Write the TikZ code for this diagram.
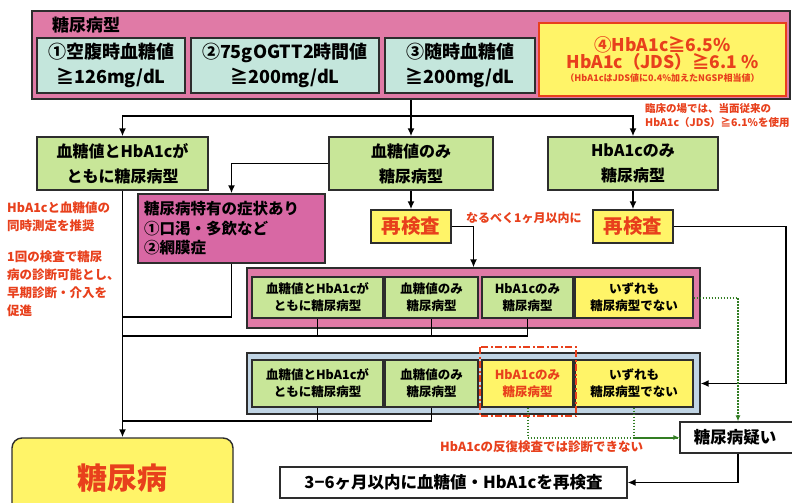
\documentclass[tikz,border=0pt]{standalone}
\usepackage{fontspec}
\setmainfont{Noto Sans CJK JP}
\usetikzlibrary{arrows.meta,calc}
\definecolor{bandpink}{RGB}{224,122,166}
\definecolor{sympink}{RGB}{216,104,164}
\definecolor{teal}{RGB}{196,230,220}
\definecolor{lgreen}{RGB}{200,230,152}
\definecolor{yel}{RGB}{255,244,104}
\definecolor{lblue}{RGB}{192,212,228}
\definecolor{redtxt}{RGB}{232,64,28}
\definecolor{bord}{RGB}{45,45,45}
\definecolor{dotgreen}{RGB}{50,125,35}
\begin{document}
\begin{tikzpicture}[x=1pt,y=-1pt,
  box/.style={draw=bord,line width=1.4pt,inner sep=0pt,align=center,font=\bfseries},
  bandbox/.style={box,fill=bandpink},
  tealbox/.style={box,fill=teal,minimum height=55pt,font=\bfseries\fontsize{18}{25}\selectfont},
  grbox/.style={box,fill=lgreen,minimum height=53pt,font=\bfseries\fontsize{16}{25}\selectfont},
  rowbox/.style={box,line width=1.2pt,font=\bfseries\fontsize{12.5}{17}\selectfont},
  recheck/.style={box,fill=yel,minimum width=80pt,minimum height=33pt,text=redtxt,font=\bfseries\fontsize{19.5}{22}\selectfont},
  whitebox/.style={box,fill=white,line width=1.2pt,minimum height=31pt,font=\bfseries\fontsize{16.5}{20}\selectfont},
  rednote/.style={text=redtxt,inner sep=0pt,align=left,font=\bfseries\fontsize{12.5}{18}\selectfont},
  arr/.style={draw=black,line width=1.6pt,-{Latex[length=8pt,width=7pt]}},
  ln/.style={draw=black,line width=1.6pt},
  dotln/.style={draw=dotgreen,line width=2pt,dash pattern=on 1.6pt off 1.4pt},
  dotarr/.style={dotln,-{Latex[length=6pt,width=5pt]}}
]
\useasboundingbox (0,0) rectangle (792,503);
\clip (0,0) rectangle (792,503);
\fill[white] (0,0) rectangle (792,503);

% top band
\node[bandbox,minimum width=758pt,minimum height=88pt] (band) at (411,55) {};
\node[inner sep=0pt,anchor=west,font=\bfseries\fontsize{17}{20}\selectfont] (title) at (52,25) {糖尿病型};
\node[tealbox,minimum width=148pt] (b1) at (111,65.5) {①空腹時血糖値\\≧126mg/dL};
\node[tealbox,minimum width=188pt] (b2) at (285,65.5) {②75gOGTT2時間値\\≧200mg/dL};
\node[tealbox,minimum width=150pt] (b3) at (460,65.5) {③随時血糖値\\≧200mg/dL};
\node[box,draw=redtxt,line width=2pt,fill=yel,minimum width=247pt,minimum height=73pt,text=redtxt] (b4) at (662.5,59.5)
  {{\fontsize{17.5}{22}\selectfont ④HbA1c≧6.5\%}\\[0pt]{\fontsize{17.5}{20}\selectfont HbA1c（JDS）≧6.1 \%}\\[1pt]{\fontsize{9}{10}\selectfont（HbA1cはJDS値に0.4\%加えたNGSP相当値）}};
\node[rednote,anchor=north west,font=\bfseries\fontsize{10.5}{14}\selectfont] (note1) at (645,103) {臨床の場では、当面従来の\\HbA1c（JDS）≧6.1\%を使用};

% second level
\node[grbox,minimum width=171pt] (g1) at (122.5,163.5) {血糖値とHbA1cが\\ともに糖尿病型};
\node[grbox,minimum width=164pt] (g2) at (411,163.5) {血糖値のみ\\糖尿病型};
\node[grbox,minimum width=170pt] (g3) at (633,163.5) {HbA1cのみ\\糖尿病型};

\coordinate (hub) at (411,116);
\draw[ln] (band.south) -- (hub);
\draw[arr] (hub) -| (g1.north);
\draw[arr] (hub) -- (g2.north);
\draw[arr] (hub) -| (g3.north);

% symptom box
\node[box,fill=sympink,minimum width=187pt,minimum height=69pt,align=left,text width=175pt,
  font=\bfseries\fontsize{15.5}{19.5}\selectfont] (s) at (231.5,228.5) {糖尿病特有の症状あり\\①口渇・多飲など\\②網膜症};
\draw[arr] (g2.west) -| (s.north);

% left notes
\node[rednote,anchor=north west] (note2) at (7,202) {HbA1cと血糖値の\\同時測定を推奨};
\node[rednote,anchor=north west] (note3) at (7,251) {1回の検査で糖尿\\病の診断可能とし、\\早期診断・介入を\\促進};

% recheck boxes
\node[recheck] (r1) at (411,226.5) {再検査};
\node[recheck] (r2) at (633,226.5) {再検査};
\draw[arr] (g2.south) -- (r1.north);
\draw[arr] (g3.south) -- (r2.north);
\node[rednote,anchor=west,font=\bfseries\fontsize{12}{14}\selectfont] (note4) at (466,218) {なるべく1ヶ月以内に};

% pink row
\node[bandbox,line width=1.2pt,minimum width=453pt,minimum height=60pt] (P) at (473.5,298) {};
\node[rowbox,fill=lgreen,minimum width=131pt,minimum height=41pt] (pa) at (317.5,297.5) {血糖値とHbA1cが\\ともに糖尿病型};
\node[rowbox,fill=lgreen,minimum width=93pt,minimum height=41pt] (pb) at (431.5,297.5) {血糖値のみ\\糖尿病型};
\node[rowbox,fill=lgreen,minimum width=91pt,minimum height=41pt] (pc) at (527.5,297.5) {HbA1cのみ\\糖尿病型};
\node[rowbox,fill=yel,minimum width=118pt,minimum height=41pt] (pd) at (634,297.5) {いずれも\\糖尿病型でない};
\draw[arr] (r1.east) -| (P.north);

% blue row
\node[box,fill=lblue,line width=1.2pt,minimum width=453pt,minimum height=61pt] (B) at (473.5,383.5) {};
\node[rowbox,fill=lgreen,minimum width=131pt,minimum height=47pt] (ba) at (317.5,383.5) {血糖値とHbA1cが\\ともに糖尿病型};
\node[rowbox,fill=lgreen,minimum width=93pt,minimum height=47pt] (bb) at (431.5,383.5) {血糖値のみ\\糖尿病型};
\node[rowbox,fill=yel,minimum width=91pt,minimum height=47pt,text=redtxt] (bc) at (527.5,383.5) {HbA1cのみ\\糖尿病型};
\node[rowbox,fill=yel,minimum width=118pt,minimum height=47pt] (bd) at (634,383.5) {いずれも\\糖尿病型でない};
\draw[draw=redtxt,line width=2pt,dash pattern=on 7pt off 2.5pt on 2pt off 2.5pt] (480,347) rectangle (576,416);
\draw[arr] (r2.east) -- ++(112,0) |- (B.east);

% final boxes
\node[box,fill=yel,rounded corners=10pt,minimum width=221pt,minimum height=80pt,text=redtxt,
  font=\bfseries\fontsize{30}{32}\selectfont] (D) at (122.5,478) {糖尿病};
\node[whitebox,minimum width=116pt] (Q) at (738,437.5) {\hspace*{-6pt}糖尿病疑い};
\node[whitebox,minimum width=347pt] (T) at (453.5,482.5) {3−6ヶ月以内に血糖値・HbA1cを再検査};

% trunk on the left
\coordinate (j1) at (122.5,317);
\coordinate (j2) at (122.5,336);
\coordinate (j3) at (122.5,421);
\draw[arr] (g1.south) -- (D.north);
\draw[ln] (s.south) |- (j1);
\draw[ln] (pa.south) |- (j2);
\draw[ln] (pb.south) -- (pb.south |- j2);
\draw[ln] (pc.south) |- (j2);
\draw[ln] (ba.south) |- (j3);
\draw[ln] (bb.south) |- (j3);

% dotted green connectors
\draw[dotarr] (pd.east) -| (Q.north);
\draw[dotarr] (bc.south) |- (Q.west);
\draw[dotln] (bd.south) |- (Q.west);
\node[rednote,anchor=west,font=\bfseries\fontsize{12.5}{14}\selectfont] (note5) at (440,447) {HbA1cの反復検査では診断できない};

\draw[arr] (Q.south) |- (T.east);
\end{tikzpicture}
\end{document}
